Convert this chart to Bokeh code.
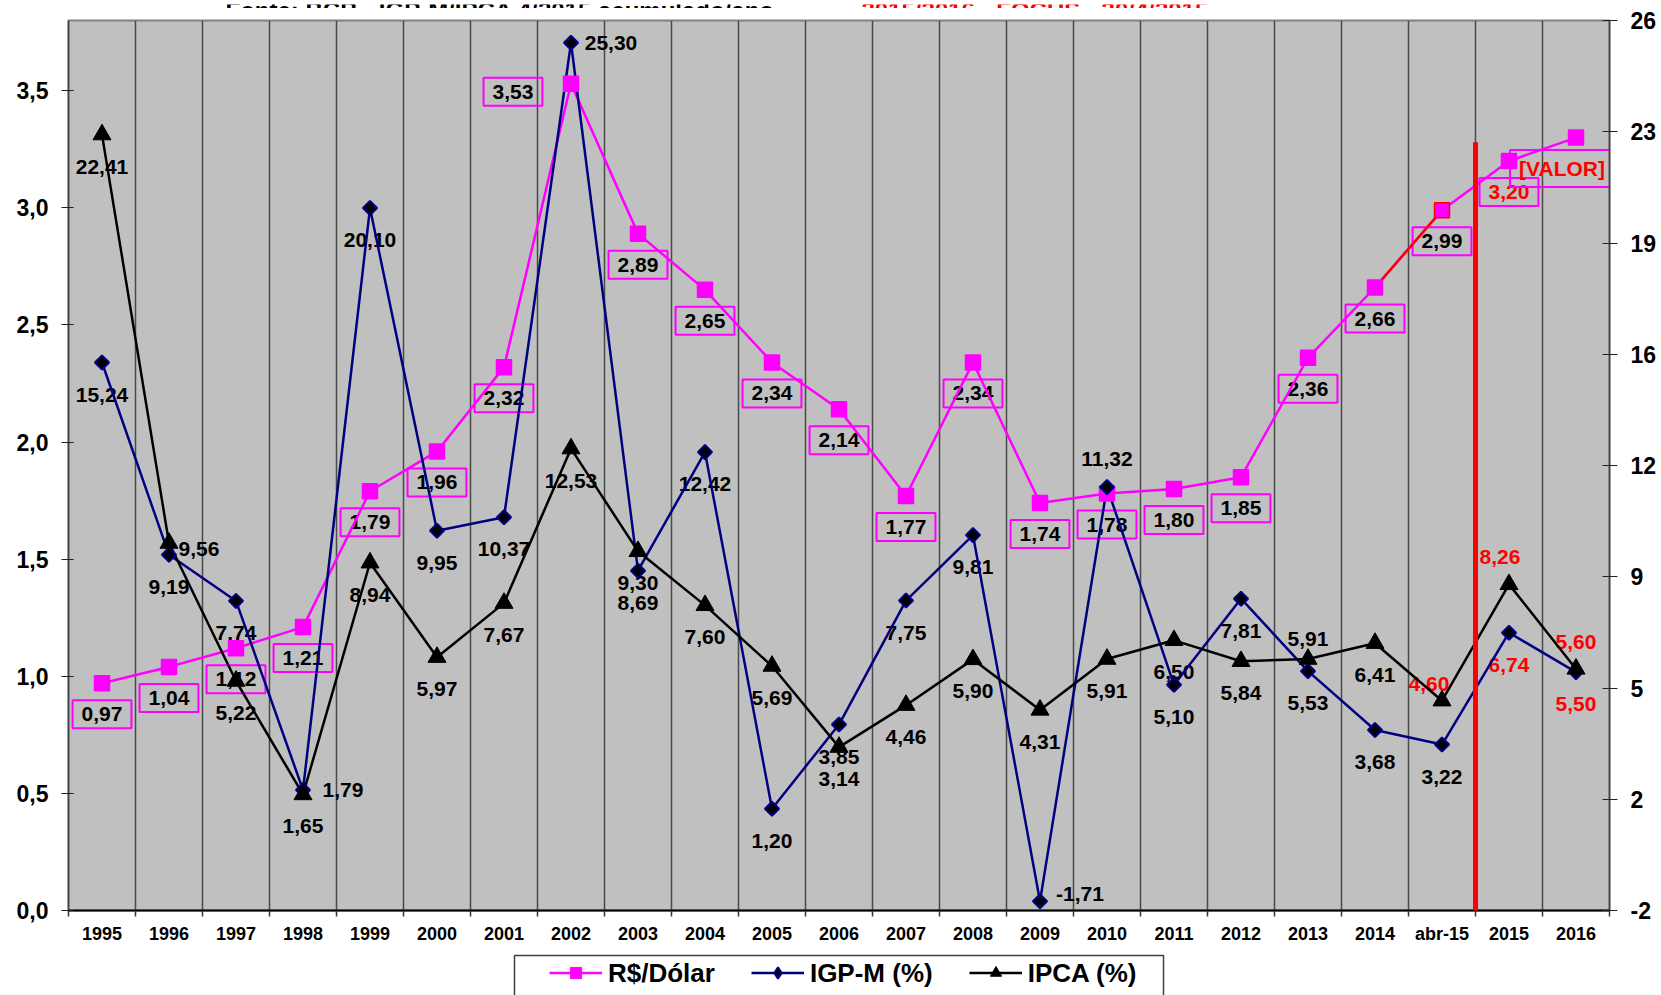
import numpy as np
from bokeh.plotting import figure
from bokeh.layouts import column
from bokeh.models import (Range1d, LinearAxis, FixedTicker, ColumnDataSource,
                          Legend, LegendItem, Arrow)
from bokeh.core.properties import value
from bokeh.embed import file_html
from bokeh.resources import INLINE

# ---------------- data ----------------
categories = ["1995", "1996", "1997", "1998", "1999", "2000", "2001", "2002",
              "2003", "2004", "2005", "2006", "2007", "2008", "2009", "2010",
              "2011", "2012", "2013", "2014", "abr-15", "2015", "2016"]
dolar = [0.97, 1.04, 1.12, 1.21, 1.79, 1.96, 2.32, 3.53, 2.89, 2.65, 2.34, 2.14,
         1.77, 2.34, 1.74, 1.78, 1.80, 1.85, 2.36, 2.66, 2.99, 3.20, 3.30]
igpm = [15.24, 9.19, 7.74, 1.79, 20.10, 9.95, 10.37, 25.30, 8.69, 12.42, 1.20, 3.85,
        7.75, 9.81, -1.71, 11.32, 5.10, 7.81, 5.53, 3.68, 3.22, 6.74, 5.50]
ipca = [22.41, 9.56, 5.22, 1.65, 8.94, 5.97, 7.67, 12.53, 9.30, 7.60, 5.69, 3.14,
        4.46, 5.90, 4.31, 5.91, 6.50, 5.84, 5.91, 6.41, 4.60, 8.26, 5.60]
series_names = ["R$/Dólar", "IGP-M (%)", "IPCA (%)"]
left_ticks = [0.0, 0.5, 1.0, 1.5, 2.0, 2.5, 3.0, 3.5]
right_ticks = [-2.0, 1.5, 5.0, 8.5, 12.0, 15.5, 19.0, 22.5, 26.0]
right_tick_labels = ["-2", "2", "5", "9", "12", "16", "19", "23", "26"]
title_black = "Fonte: BCB - IGP-M/IPCA 4/2015 acumulado/ano - "
title_red = "2015/2016 - FOCUS - 30/4/2015"

# ---------------- label placement / styling ----------------
dolar_moves = {"2002": (-58, 8), "2016": (-14, 31)}
igpm_moves = {"1998": (40, 0), "2002": (40, 0), "2009": (40, -7), "2010": (0, -28)}
ipca_moves = {"1996": (30, 6), "2013": (0, -20), "abr-15": (-13, -17),
              "2015": (-9, -27), "2016": (0, -27)}
dolar_red = {"2015", "2016"}
igpm_red = {"2015", "2016"}
ipca_red = {"abr-15", "2015", "2016"}

FONT_NAME = "Liberation Sans"
FONT = value(FONT_NAME)
MAGENTA = "#FF00FF"
NAVY = "#000080"
RED = "#FF0000"
LABEL_SIZE = "21px"

W = 1661
H_TITLE, H_MAIN, H_LEG = 8, 942, 45
BL, BR, BT, BB = 68, 52, 12, 40
Y_LEFT = (0, 3.8)
Y_RIGHT = (-2, 26)

n = len(categories)
xs = np.arange(n) + 0.5


def fmt(v):
    return f"{v:.2f}".replace(".", ",")


def label_source(vals, texts, moves, reds, default_dy):
    dx = [moves.get(c, (0, default_dy))[0] for c in categories]
    dy = [moves.get(c, (0, default_dy))[1] for c in categories]
    color = [RED if c in reds else "black" for c in categories]
    return ColumnDataSource(dict(x=xs, y=vals, text=texts, dx=dx, dy=dy, color=color))


def strip(height, y0):
    """A plain strip whose data units are page pixels (same side borders)."""
    f = figure(width=W, height=height, x_range=Range1d(BL, W - BR),
               y_range=Range1d(y0 + height, y0), output_backend="svg",
               toolbar_location=None, x_axis_location=None, y_axis_location=None,
               min_border_left=BL, min_border_right=BR, min_border_top=0,
               min_border_bottom=0, background_fill_color="white",
               border_fill_color="white")
    f.grid.visible = False
    f.outline_line_color = None
    return f


# ---------------- title strip (top of the title is cut off, as in the original) ----
tt = strip(H_TITLE, 0)
tt.text(x=[225], y=[5.5], text=[title_black], text_font=FONT, text_font_style="bold",
        text_font_size="24px", text_color="black", text_baseline="alphabetic")
tt.text(x=[861], y=[5.5], text=[title_red], text_font=FONT, text_font_style="bold",
        text_font_size="24px", text_color=RED, text_baseline="alphabetic")

# ---------------- main chart ----------------
p = figure(width=W, height=H_MAIN, x_range=Range1d(0, n), y_range=Range1d(*Y_LEFT),
           output_backend="svg", toolbar_location=None,
           min_border_left=BL, min_border_right=BR, min_border_top=BT,
           min_border_bottom=BB, background_fill_color="#C0C0C0",
           border_fill_color="white")
p.extra_y_ranges = {"pct": Range1d(*Y_RIGHT)}
p.outline_line_color = "#808080"
p.outline_line_width = 2

# grid: vertical lines at category boundaries
p.ygrid.grid_line_color = None
p.xgrid.ticker = FixedTicker(ticks=list(range(0, n + 1)))
p.xgrid.grid_line_color = "#4a4a4a"
p.xgrid.grid_line_width = 1.5

# x axis
xa = p.xaxis[0]
xa.ticker = FixedTicker(ticks=list(xs), minor_ticks=list(range(0, n + 1)))
xa.major_label_overrides = {float(x): c for x, c in zip(xs, categories)}
xa.major_tick_line_color = None
xa.minor_tick_line_color = "#333333"
xa.minor_tick_line_width = 1.5
xa.minor_tick_out = 6
xa.minor_tick_in = 0
xa.axis_line_color = "black"
xa.axis_line_width = 2
xa.major_label_text_font = FONT_NAME
xa.major_label_text_font_style = "bold"
xa.major_label_text_font_size = "18px"
xa.major_label_text_color = "black"
xa.major_label_standoff = 7

# left axis
ya = p.yaxis[0]
ya.ticker = FixedTicker(ticks=left_ticks)
ya.major_label_overrides = {t: f"{t:.1f}".replace(".", ",") for t in left_ticks}
ya.minor_tick_line_color = None
ya.major_tick_in = 5
ya.major_tick_out = 7
ya.major_tick_line_color = "#222222"
ya.axis_line_color = "#404040"
ya.axis_line_width = 1.5
ya.major_label_text_font = FONT_NAME
ya.major_label_text_font_style = "bold"
ya.major_label_text_font_size = "23px"
ya.major_label_text_color = "black"
ya.major_label_standoff = 13

# right axis
ra = LinearAxis(y_range_name="pct", ticker=FixedTicker(ticks=right_ticks),
                major_label_overrides=dict(zip(right_ticks, right_tick_labels)))
ra.minor_tick_line_color = None
ra.major_tick_in = 7
ra.major_tick_out = 8
ra.major_tick_line_color = "#222222"
ra.axis_line_color = "#404040"
ra.axis_line_width = 1.5
ra.major_label_text_font = FONT_NAME
ra.major_label_text_font_style = "bold"
ra.major_label_text_font_size = "23px"
ra.major_label_text_color = "black"
ra.major_label_standoff = 13
p.add_layout(ra, "right")

# ---------------- data labels ----------------
dolar_texts = [fmt(v) for v in dolar]
dolar_texts[-1] = "[VALOR]"
src_d = label_source(dolar, dolar_texts, dolar_moves, dolar_red, 31)
src_g = label_source(igpm, [fmt(v) for v in igpm], igpm_moves, igpm_red, 32)
src_i = label_source(ipca, [fmt(v) for v in ipca], ipca_moves, ipca_red, 32)

common = dict(x="x", y="y", text="text", x_offset="dx", y_offset="dy",
              text_color="color", text_font=FONT, text_font_style="bold",
              text_font_size=LABEL_SIZE, text_align="center", text_baseline="middle")
p.text(source=src_d, border_line_color=MAGENTA, border_line_width=2,
       padding=(9, 7), **common)
p.text(source=src_g, y_range_name="pct", **common)
p.text(source=src_i, y_range_name="pct", **common)

# ---------------- series ----------------
p.line(xs, dolar, line_color=MAGENTA, line_width=2.5)
p.line(xs[19:21], dolar[19:21], line_color=RED, line_width=2.5)
p.line(xs, igpm, line_color=NAVY, line_width=2.5, y_range_name="pct")
p.line(xs, ipca, line_color="black", line_width=2.5, y_range_name="pct")

d_edge = [RED if c == "abr-15" else MAGENTA for c in categories]
p.scatter(xs, dolar, marker="square", size=15, fill_color=MAGENTA,
          line_color=d_edge, line_width=1.5)
p.scatter(xs, igpm, marker="square", angle=np.pi / 4, size=10,
          fill_color="black", line_color=NAVY, line_width=2, y_range_name="pct")
p.scatter(xs, ipca, marker="triangle", size=18, fill_color="black",
          line_color="black", y_range_name="pct")

# forecast divider (between abr-15 and 2015)
p.add_layout(Arrow(end=None, x_start=21, y_start=3.28, x_end=21, y_end=-0.2,
                   line_color=RED, line_width=5))

# ---------------- legend strip ----------------
lg = strip(H_LEG, H_TITLE + H_MAIN)
# legend box (page pixels)
lg.quad(left=[514], right=[1163], top=[955], bottom=[1010], fill_color="white",
        line_color="#404040", line_width=1.5)
far = ([0], [0])  # outside the strip's ranges: only the legend swatches show
r1 = [lg.line(*far, line_color=MAGENTA, line_width=2.5),
      lg.scatter(*far, marker="square", size=15, fill_color=MAGENTA,
                 line_color=MAGENTA)]
r2 = [lg.line(*far, line_color=NAVY, line_width=2.5),
      lg.scatter(*far, marker="diamond", size=15, fill_color="black",
                 line_color=NAVY, line_width=2)]
r3 = [lg.line(*far, line_color="black", line_width=2.5),
      lg.scatter(*far, marker="triangle", size=18, fill_color="black",
                 line_color="black")]
legend = Legend(items=[LegendItem(label=series_names[0], renderers=r1),
                       LegendItem(label=series_names[1], renderers=r2),
                       LegendItem(label=series_names[2], renderers=r3)],
                orientation="horizontal", location="center_left",
                border_line_color=None, background_fill_alpha=0,
                label_text_font=FONT_NAME, label_text_font_style="bold",
                label_text_font_size="26px", label_text_color="black",
                glyph_width=53, glyph_height=28, label_height=28,
                label_standoff=6, spacing=36, padding=0, margin=549 - BL)
lg.add_layout(legend)

open("out.html", "w").write(file_html(column(tt, p, lg, spacing=0), INLINE))
